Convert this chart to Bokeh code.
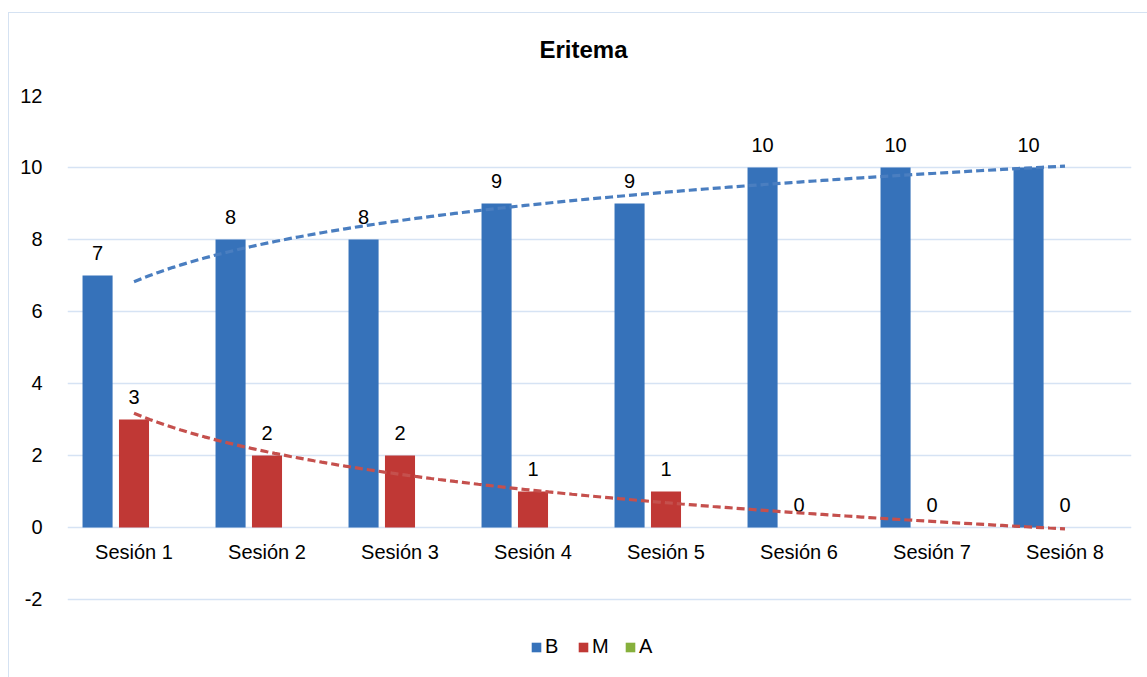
import numpy as np
from bokeh.plotting import figure
from bokeh.models import (Range1d, FixedTicker, Legend, LegendItem, ColumnDataSource, InlineStyleSheet)
from bokeh.core.properties import value
from bokeh.embed import file_html
from bokeh.resources import INLINE

# ---- data ----
categories = ["Sesión 1", "Sesión 2", "Sesión 3", "Sesión 4",
              "Sesión 5", "Sesión 6", "Sesión 7", "Sesión 8"]
B = [7, 8, 8, 9, 9, 10, 10, 10]
M = [3, 2, 2, 1, 1, 0, 0, 0]
A = [0, 0, 0, 0, 0, 0, 0, 0]
y_ticks = [-2, 0, 2, 4, 6, 8, 10, 12]

FONT = "Liberation Sans"
BLUE = "#3672BA"
RED = "#C03835"
GREEN = "#86B03C"
GRID = "#D6E3F4"

idx = np.arange(1, len(categories) + 1)
off = 0.274
bw = 0.226

# frame runs from the top gridline down to the window bottom (legend sits inside)
p = figure(width=1147, height=677, output_backend="svg", toolbar_location=None,
           x_range=Range1d(0.5, 8.5), y_range=Range1d(-4.17, 12),
           min_border_left=67, min_border_right=16, min_border_top=95,
           min_border_bottom=0)
p.outline_line_color = None
p.background_fill_color = "white"
p.border_fill_color = "white"
p.stylesheets = [InlineStyleSheet(css=(
    ":host::after {content: ''; position: absolute; left: 8px; top: 12px; "
    "width: 1200px; height: 800px; border: 1.5px solid #D5E2F2; "
    "pointer-events: none; box-sizing: border-box;}"))]

# title
p.title.text = "Eritema"
p.title.text_font = FONT
p.title.text_font_size = "24px"
p.title.text_font_style = "bold"
p.title.text_color = "#000000"
p.title.align = "left"
p.title.offset = 472
p.title.standoff = 66

# y axis
p.yaxis.ticker = FixedTicker(ticks=y_ticks)
p.yaxis.major_label_overrides = {t: str(t) for t in y_ticks}
p.yaxis.axis_line_color = None
p.yaxis.major_tick_line_color = None
p.yaxis.minor_tick_line_color = None
p.yaxis.major_label_text_font = FONT
p.yaxis.major_label_text_font_size = "20px"
p.yaxis.major_label_text_color = "#000000"
p.yaxis.major_label_standoff = 19

# x axis hidden: category labels drawn at y = 0 below
p.xaxis.visible = False

p.xgrid.grid_line_color = None
p.ygrid.ticker = FixedTicker(ticks=y_ticks)
p.ygrid.grid_line_color = GRID
p.ygrid.grid_line_width = 1.5

src = ColumnDataSource(dict(xb=idx - off, xm=idx, xa=idx + off, B=B, M=M, A=A,
                            lb=[str(v) for v in B], lm=[str(v) for v in M],
                            cat=categories, zero=[0] * len(categories)))

rb = p.vbar(x="xb", top="B", width=bw, bottom=0, source=src, fill_color=BLUE, line_color=None)
rm = p.vbar(x="xm", top="M", width=bw, bottom=0, source=src, fill_color=RED, line_color=None)
ra = p.vbar(x="xa", top="A", width=bw, bottom=0, source=src, fill_color=GREEN, line_color=None)

# category labels under the zero line
p.text(x="xm", y="zero", text="cat", source=src, text_font=value(FONT), text_font_size="20px",
       text_align="center", text_baseline="middle", y_offset=25, text_color="#000000")

# data labels
p.text(x="xb", y="B", text="lb", source=src, text_font=value(FONT), text_font_size="20px",
       text_align="center", text_baseline="middle", y_offset=-22, text_color="#000000")
p.text(x="xm", y="M", text="lm", source=src, text_font=value(FONT), text_font_size="20px",
       text_align="center", text_baseline="middle", y_offset=-22, text_color="#000000")

# logarithmic trend lines fitted to the data
xs = np.linspace(1, 8, 120)
for series, col in ((B, "#4A7EC0"), (M, "#C5504D")):
    b, a = np.polyfit(np.log(idx), np.array(series, dtype=float), 1)
    p.line(xs, a + b * np.log(xs), line_color=col, line_width=3.2, line_dash="8 4")

legend = Legend(items=[LegendItem(label="B", renderers=[rb]),
                       LegendItem(label="M", renderers=[rm]),
                       LegendItem(label="A", renderers=[ra])],
                orientation="horizontal", location=(463, 19))
legend.glyph_width = 12
legend.glyph_height = 12
legend.label_text_font = FONT
legend.label_text_font_size = "20px"
legend.label_text_color = "#000000"
legend.label_standoff = 3
legend.spacing = 12
legend.padding = 0
legend.margin = 0
legend.border_line_color = None
legend.background_fill_alpha = 0
legend.label_height = 20
p.add_layout(legend)

open("out.html", "w").write(file_html(p, INLINE))
